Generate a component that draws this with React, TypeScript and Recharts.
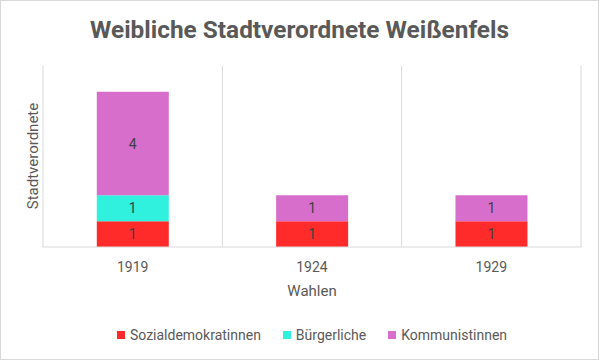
import { BarChart, Bar, XAxis, YAxis, CartesianGrid, Legend, LabelList } from 'recharts';

const YEARS = ['1919', '1924', '1929'];
const SPD = [1, 1, 1];
const BUERGERLICHE = [1, 0, 0];
const KPD = [4, 1, 1];

const SERIES = [
  { key: 'spd', name: 'Sozialdemokratinnen', color: '#FF2B2B', values: SPD },
  { key: 'buerg', name: 'Bürgerliche', color: '#30F0DE', values: BUERGERLICHE },
  { key: 'kpd', name: 'Kommunistinnen', color: '#D76ECB', values: KPD },
];

const data = YEARS.map((year, i) => {
  const row: Record<string, string | number> = { year };
  SERIES.forEach(s => { row[s.key] = s.values[i]; });
  return row;
});

const FONT = 'Roboto, "Liberation Sans", sans-serif';
const GRID = '#D9D9D9';

function LegendContent({ payload }: any) {
  const order = SERIES.map(s => s.name);
  const items = [...(payload || [])].sort((a: any, b: any) => order.indexOf(a.value) - order.indexOf(b.value));
  return (
    <div style={{ display: 'flex', justifyContent: 'center', height: 24, alignItems: 'center', fontFamily: FONT, fontSize: 14, color: '#595959' }}>
      {items.map((p: any) => (
        <div key={p.value} style={{ display: 'flex', alignItems: 'center', margin: '0 11px' }}>
          <span style={{ width: 8, height: 8, background: p.color, marginRight: 5, display: 'inline-block' }} />
          <span>{p.value}</span>
        </div>
      ))}
    </div>
  );
}

export default function App() {
  return (
    <div style={{ position: 'absolute', left: 0, top: 0, width: 599, height: 360, background: '#fff' }}>
      <BarChart
        width={599}
        height={360}
        data={data}
        margin={{ top: 66, right: 18, left: 43, bottom: 34 }}
        barCategoryGap="30%"
      >
        <CartesianGrid
          stroke={GRID}
          horizontal={false}
          verticalCoordinatesGenerator={({ offset }: any) =>
            [0, 1, 2, 3].map(i => offset.left + (offset.width * i) / 3)
          }
        />
        <XAxis
          dataKey="year"
          height={55}
          tickLine={false}
          tickSize={0}
          tickMargin={15}
          axisLine={{ stroke: GRID }}
          tick={{ fill: '#595959', fontSize: 14, fontFamily: FONT }}
        />
        <YAxis hide domain={[0, 7]} />
        <Legend verticalAlign="bottom" content={<LegendContent />} wrapperStyle={{ bottom: 13 }} />
        {SERIES.map(s => (
          <Bar key={s.key} dataKey={s.key} name={s.name} stackId="a" fill={s.color} isAnimationActive={false}>
            <LabelList
              dataKey={s.key}
              position="center"
              formatter={(v: any) => (v ? v : '')}
              style={{ fill: '#404040', fontSize: 14, fontFamily: FONT }}
            />
          </Bar>
        ))}
      </BarChart>
      <svg width={599} height={360} style={{ position: 'absolute', left: 0, top: 0, pointerEvents: 'none' }}>
        <rect x={0.5} y={0.5} width={598} height={359} fill="none" stroke={GRID} />
        <text x={299.5} y={38} textAnchor="middle" fontFamily={FONT} fontWeight="bold" fontSize={24} fill="#595959" textLength={419} lengthAdjust="spacingAndGlyphs">
          Weibliche Stadtverordnete Weißenfels
        </text>
        <text transform="translate(38,156) rotate(-90)" textAnchor="middle" fontFamily={FONT} fontSize={15} fill="#595959">
          Stadtverordnete
        </text>
        <text x={312} y={296} textAnchor="middle" fontFamily={FONT} fontSize={15} fill="#595959">
          Wahlen
        </text>
      </svg>
    </div>
  );
}
